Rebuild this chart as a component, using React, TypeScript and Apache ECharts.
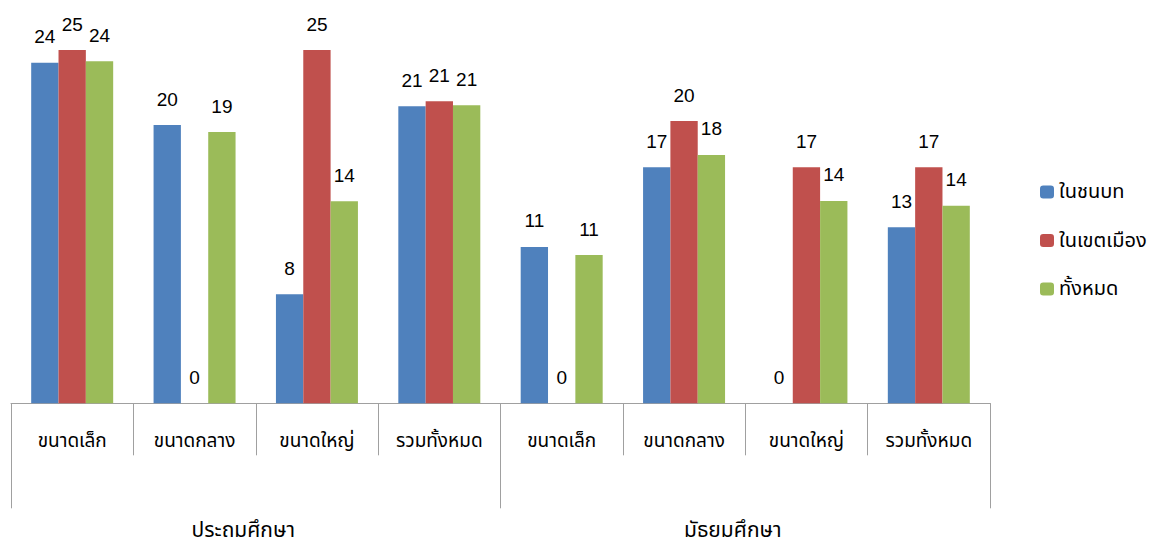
import React, { useEffect, useRef } from "react";
import * as echarts from "echarts";

const categories = [
  "ขนาดเล็ก", "ขนาดกลาง", "ขนาดใหญ่", "รวมทั้งหมด",
  "ขนาดเล็ก", "ขนาดกลาง", "ขนาดใหญ่", "รวมทั้งหมด",
];
const groups = ["ประถมศึกษา", "มัธยมศึกษา"];
const seriesNames = ["ในชนบท", "ในเขตเมือง", "ทั้งหมด"];
const rural = [24.21, 19.78, 7.75, 21.11, 11.11, 16.77, 0, 12.51];
const urban = [25.11, 0, 25.11, 21.46, 0, 20.06, 16.77, 16.77];
const total = [24.31, 19.28, 14.36, 21.18, 10.54, 17.65, 14.38, 14.04];
const colors = ["#4F81BD", "#C0504D", "#9BBB59"];

const FONT = "'Noto Sans Thai', Tahoma, 'Noto Sans', 'DejaVu Sans', sans-serif";

export default function App() {
  const ref = useRef<HTMLDivElement>(null);
  useEffect(() => {
    if (!ref.current) return;
    const chart = echarts.init(ref.current, undefined, { renderer: "svg" });
    const values = [rural, urban, total];
    chart.setOption({
      animation: false,
      textStyle: { fontFamily: FONT },
      color: colors,
      grid: { left: 11, right: 160, top: 37.5, bottom: 143.7 },
      legend: {
        orient: "vertical",
        left: 1035,
        top: 177,
        itemWidth: 14,
        itemHeight: 13,
        itemGap: 28.5,
        textStyle: { fontSize: 20, color: "#000", lineHeight: 20, fontFamily: FONT },
        data: seriesNames,
      },
      xAxis: [
        {
          type: "category",
          data: categories,
          position: "bottom",
          axisLine: { show: true, lineStyle: { color: "#A0A0A0", width: 1 } },
          axisTick: { show: true, interval: 0, length: 52, lineStyle: { color: "#A0A0A0" } },
          axisLabel: { interval: 0, margin: 28, fontSize: 19, lineHeight: 20, color: "#000", fontFamily: FONT },
        },
        {
          type: "category",
          data: groups,
          position: "bottom",
          offset: 0,
          axisLine: { show: false },
          axisTick: { show: true, interval: 0, length: 105, lineStyle: { color: "#A0A0A0" } },
          axisLabel: {
            interval: 0,
            margin: 117,
            fontSize: 21,
            lineHeight: 21,
            color: "#000",
            fontFamily: FONT,
            padding: [0, 25, 0, 0],
          },
        },
      ],
      yAxis: {
        type: "value",
        min: 0,
        max: 26,
        show: false,
        splitLine: { show: false },
      },
      series: seriesNames.map((name, i) => ({
        name,
        type: "bar",
        xAxisIndex: 0,
        data: values[i],
        barGap: "0%",
        barCategoryGap: "33%",
        label: {
          show: true,
          position: ["50%", -26],
          align: "center",
          verticalAlign: "middle",
          fontSize: 19,
          color: "#000",
          fontFamily: "'Liberation Sans', Arial, sans-serif",
          formatter: (p: any) => String(Math.round(p.value)),
        },
      })),
    });
    return () => chart.dispose();
  }, []);
  return (
    <div
      ref={ref}
      style={{ position: "absolute", left: 0, top: 0, width: 1150, height: 547, background: "#fff" }}
    />
  );
}
